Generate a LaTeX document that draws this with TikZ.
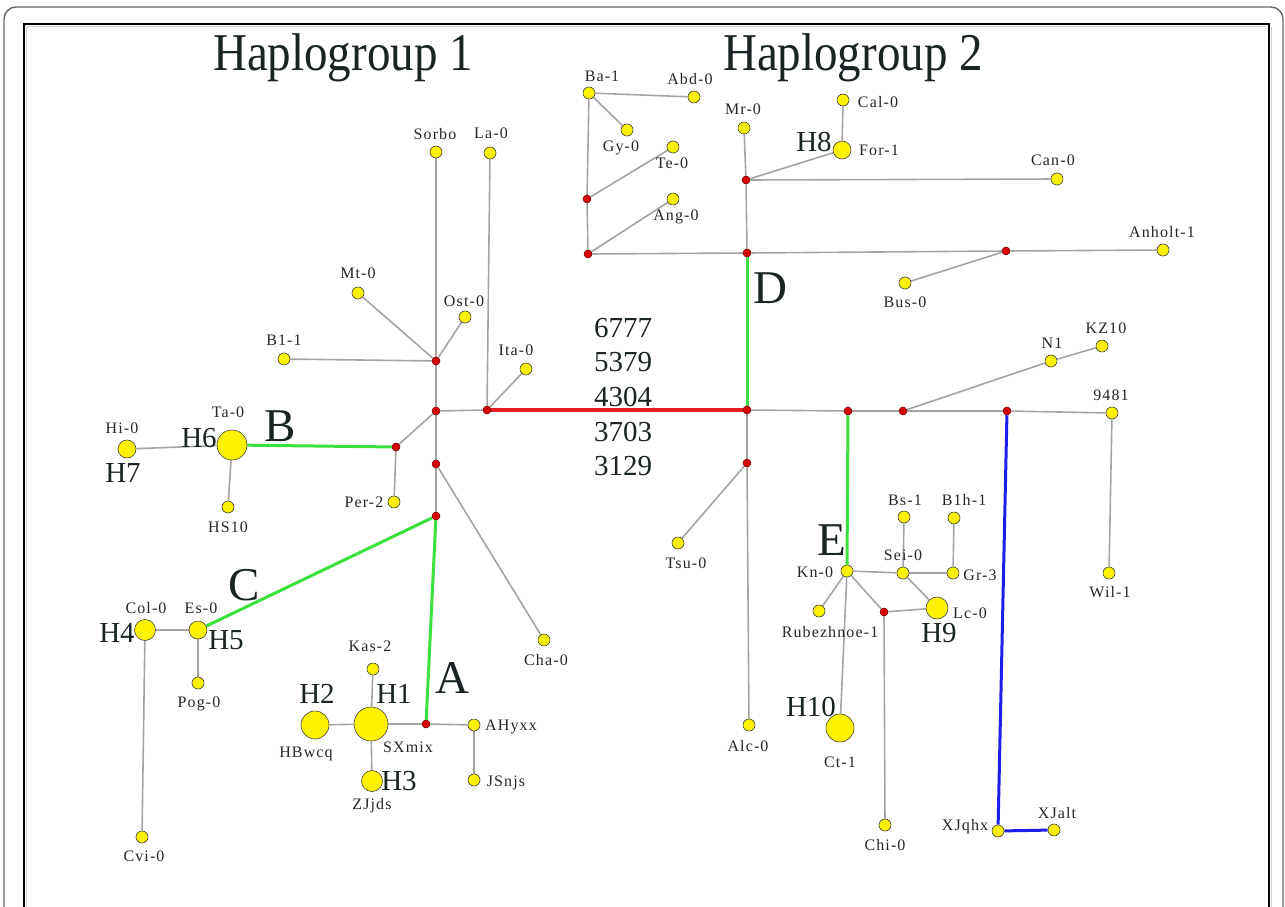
\documentclass[tikz,border=0pt]{standalone}
\usepackage{fontspec}
\setmainfont{Liberation Serif}
\newfontfamily\lblfont[LetterSpace=7]{Liberation Serif}
\usetikzlibrary{backgrounds}
\definecolor{lgray}{HTML}{A4A4A4}
\definecolor{lgreen}{HTML}{3CE03C}
\definecolor{lblue}{HTML}{1E1EE6}
\definecolor{lred}{HTML}{E41E1E}
\definecolor{ink}{HTML}{1A2424}
\tikzset{
  seq/.style={circle, draw=black!75, fill=yellow, line width=0.6pt, inner sep=0pt, minimum size=#1},
  seq/.default=12pt,
  mv/.style={circle, draw=red!40!black, fill=red!85!black, line width=0.5pt, inner sep=0pt, minimum size=8pt},
  link/.style={draw=lgray, line width=1.6pt},
  grn/.style={draw=lgreen, line width=3pt},
  blu/.style={draw=lblue, line width=3pt},
  hot/.style={draw=lred, line width=4.5pt},
  lbl/.style={font=\lblfont\fontsize{16}{18}\selectfont, text=black!85, inner sep=0pt},
  hlab/.style={font=\fontsize{29}{31}\selectfont, text=ink, inner sep=0pt},
  bigl/.style={font=\fontsize{47}{49}\selectfont, text=ink, inner sep=0pt},
  numl/.style={font=\fontsize{29}{31}\selectfont, text=ink, inner sep=0pt},
  ttl/.style={font=\fontsize{47}{50}\selectfont, text=ink, inner sep=0pt}
}
\begin{document}
\begin{tikzpicture}[x=1pt,y=-1pt]
\useasboundingbox (0,0) rectangle (1285,907);
\clip (0,0) rectangle (1285,907);
% frames
\draw[black!60, line width=1.4pt, rounded corners=12pt] (4,7) rectangle (1283,960);
\draw[black!18, line width=1pt] (26.5,960) -- (26.5,26.5) -- (1266,26.5);
\draw[black!18, line width=1pt] (1271,27) -- (1271,960);
\draw[black, line width=2.5pt] (24,960) -- (24,24) -- (1269,24) -- (1269,960);

% titles
\node[ttl] (t1) at (343,58) {\scalebox{1.0}[1.13]{Haplogroup 1}};
\node[ttl] (t2) at (853,58) {\scalebox{1.0}[1.13]{Haplogroup 2}};

% ---------- Haplogroup 1 ----------
\node[mv] (m1) at (436,361) {};
\node[mv] (m2) at (436,411) {};
\node[mv] (m3) at (487,410) {};
\node[mv] (m4) at (436,464) {};
\node[mv] (m5) at (436,516) {};
\node[mv] (mPer) at (396,447) {};
\node[mv] (mA) at (426,724) {};

\node[seq] (Sorbo) at (436,152) {};
\node[seq] (La0) at (490,153) {};
\node[seq] (Mt0) at (358,293) {};
\node[seq] (Ost0) at (465,317) {};
\node[seq] (Bl1) at (284,359) {};
\node[seq] (Ita0) at (526,369) {};
\node[seq] (Per2) at (394,502) {};
\node[seq=30pt] (Ta0) at (232,445) {};
\node[seq=18pt] (Hi0) at (127,449) {};
\node[seq] (HS10) at (228,507) {};
\node[seq] (Cha0) at (544,640) {};
\node[seq=18pt] (Es0) at (198,630) {};
\node[seq=21pt] (Col0) at (145,630) {};
\node[seq] (Pog0) at (198,683) {};
\node[seq] (Cvi0) at (142,837) {};
\node[seq=34pt] (SXmix) at (371,724) {};
\node[seq=28pt] (HBwcq) at (315,725) {};
\node[seq=21pt] (ZJjds) at (372,781) {};
\node[seq] (Kas2) at (373,669) {};
\node[seq] (AHyxx) at (474,725) {};
\node[seq] (JSnjs) at (474,780) {};

\node[lbl] (tSorbo) at (435,134) {Sorbo};
\node[lbl] (tLa0) at (491,133) {La-0};
\node[lbl] (tMt0) at (358,273) {Mt-0};
\node[lbl] (tOst0) at (464,301) {Ost-0};
\node[lbl] (tBl1) at (284,340) {B1-1};
\node[lbl] (tIta0) at (516,350) {Ita-0};
\node[lbl] (tPer2) at (364,502) {Per-2};
\node[lbl] (tTa0) at (228,412) {Ta-0};
\node[lbl] (tHi0) at (122,428) {Hi-0};
\node[lbl] (tHS10) at (228,527) {HS10};
\node[lbl] (tCha0) at (546,660) {Cha-0};
\node[lbl] (tCol0) at (146,608) {Col-0};
\node[lbl] (tEs0) at (201,608) {Es-0};
\node[lbl] (tPog0) at (199,704) {Pog-0};
\node[lbl] (tCvi0) at (144,856) {Cvi-0};
\node[lbl] (tKas2) at (370,646) {Kas-2};
\node[lbl] (tSXmix) at (408,747) {SXmix};
\node[lbl] (tHBwcq) at (306,754) {HBwcq};
\node[lbl] (tZJjds) at (372,806) {ZJjds};
\node[lbl] (tAHyxx) at (511,727) {AHyxx};
\node[lbl] (tJSnjs) at (506,783) {JSnjs};

\node[hlab] (h1) at (394,694) {H1};
\node[hlab] (h2) at (317,694) {H2};
\node[hlab] (h3) at (399,781) {H3};
\node[hlab] (h4) at (117,633) {H4};
\node[hlab] (h5) at (226,640) {H5};
\node[hlab] (h6) at (199,438) {H6};
\node[hlab] (h7) at (123,473) {H7};

\node[bigl] (lA) at (452,678) {A};
\node[bigl] (lB) at (280,426) {B};
\node[bigl] (lC) at (244,585) {C};

% mutations along the central branch
\node[numl] (k1) at (623,328) {6777};
\node[numl] (k2) at (623,362) {5379};
\node[numl] (k3) at (623,397) {4304};
\node[numl] (k4) at (623,432) {3703};
\node[numl] (k5) at (623,466) {3129};

% ---------- Haplogroup 2 ----------
\node[mv] (D0) at (747,410) {};
\node[mv] (D2) at (747,253) {};
\node[mv] (D3) at (746,180) {};
\node[mv] (L1) at (587,199) {};
\node[mv] (L2) at (588,254) {};
\node[mv] (R1) at (1006,251) {};
\node[mv] (Dd) at (747,463) {};
\node[mv] (E0) at (848,411) {};
\node[mv] (N0) at (903,411) {};
\node[mv] (B0) at (1007,411) {};
\node[mv] (K0) at (884,612) {};

\node[seq] (Ba1) at (589,93) {};
\node[seq] (Abd0) at (694,97) {};
\node[seq] (Gy0) at (627,130) {};
\node[seq] (Te0) at (673,147) {};
\node[seq] (Ang0) at (673,199) {};
\node[seq] (Mr0) at (744,128) {};
\node[seq=18pt] (For1) at (842,150) {};
\node[seq] (Cal0) at (843,100) {};
\node[seq] (Can0) at (1057,179) {};
\node[seq] (Anholt1) at (1163,250) {};
\node[seq] (Bus0) at (905,283) {};
\node[seq] (Tsu0) at (678,543) {};
\node[seq] (Alc0) at (749,725) {};
\node[seq] (N1) at (1051,361) {};
\node[seq] (KZ10) at (1102,346) {};
\node[seq] (n9481) at (1112,413) {};
\node[seq] (Wil1) at (1109,573) {};
\node[seq] (XJqhx) at (998,831) {};
\node[seq] (XJalt) at (1054,830) {};
\node[seq] (Kn0) at (847,571) {};
\node[seq] (Sei0) at (903,573) {};
\node[seq] (Gr3) at (953,573) {};
\node[seq] (Blh1) at (954,518) {};
\node[seq] (Bs1) at (904,517) {};
\node[seq=22pt] (Lc0) at (937,608) {};
\node[seq] (Rub) at (819,611) {};
\node[seq] (Chi0) at (885,825) {};
\node[seq=28pt] (Ct1) at (840,728) {};

\node[lbl] (tBa1) at (602,76) {Ba-1};
\node[lbl] (tAbd0) at (690,79) {Abd-0};
\node[lbl] (tGy0) at (621,148) {Gy-0};
\node[lbl] (tTe0) at (672,163) {Te-0};
\node[lbl] (tAng0) at (676,217) {Ang-0};
\node[lbl] (tMr0) at (743,109) {Mr-0};
\node[lbl] (tCal0) at (878,102) {Cal-0};
\node[lbl] (tFor1) at (879,150) {For-1};
\node[lbl] (tCan0) at (1053,160) {Can-0};
\node[lbl] (tAnholt1) at (1162,232) {Anholt-1};
\node[lbl] (tBus0) at (905,302) {Bus-0};
\node[lbl] (tTsu0) at (686,563) {Tsu-0};
\node[lbl] (tAlc0) at (748,746) {Alc-0};
\node[lbl] (tN1) at (1052,343) {N1};
\node[lbl] (tKZ10) at (1106,328) {KZ10};
\node[lbl] (t9481) at (1111,395) {9481};
\node[lbl] (tWil1) at (1110,592) {Wil-1};
\node[lbl] (tXJqhx) at (965,827) {XJqhx};
\node[lbl] (tXJalt) at (1057,813) {XJalt};
\node[lbl] (tKn0) at (815,572) {Kn-0};
\node[lbl] (tSei0) at (903,555) {Sei-0};
\node[lbl] (tGr3) at (980,575) {Gr-3};
\node[lbl] (tBlh1) at (964,500) {B1h-1};
\node[lbl] (tBs1) at (905,500) {Bs-1};
\node[lbl] (tLc0) at (970,613) {Lc-0};
\node[lbl] (tRub) at (830,632) {Rubezhnoe-1};
\node[lbl] (tChi0) at (885,845) {Chi-0};
\node[lbl] (tCt1) at (840,762) {Ct-1};

\node[hlab] (h8) at (814,142) {H8};
\node[hlab] (h9) at (939,633) {H9};
\node[hlab] (h10) at (811,707) {H10};

\node[bigl] (lD) at (770,288) {D};
\node[bigl] (lE) at (832,540) {E};

% ---------- connections ----------
\begin{scope}[on background layer]
  % haplogroup 1
  \draw[link] (Sorbo) -- (m1);
  \draw[link] (La0) -- (m3);
  \draw[link] (Mt0) -- (m1);
  \draw[link] (Ost0) -- (m1);
  \draw[link] (Bl1) -- (m1);
  \draw[link] (m1) -- (m2);
  \draw[link] (m2) -- (m3);
  \draw[link] (m3) -- (Ita0);
  \draw[link] (m2) -- (mPer);
  \draw[link] (mPer) -- (Per2);
  \draw[link] (m2) -- (m4);
  \draw[link] (m4) -- (m5);
  \draw[link] (m4) -- (Cha0);
  \draw[link] (Hi0) -- (Ta0);
  \draw[link] (Ta0) -- (HS10);
  \draw[link] (Col0) -- (Es0);
  \draw[link] (Col0) -- (Cvi0);
  \draw[link] (Es0) -- (Pog0);
  \draw[link] (HBwcq) -- (SXmix);
  \draw[link] (SXmix) -- (Kas2);
  \draw[link] (SXmix) -- (ZJjds);
  \draw[link] (SXmix) -- (mA);
  \draw[link] (mA) -- (AHyxx);
  \draw[link] (AHyxx) -- (JSnjs);
  \draw[grn] (mPer) -- (Ta0);
  \draw[grn] (m5) -- (Es0);
  \draw[grn] (m5) -- (mA);
  % central branch
  \draw[hot] (m3) -- (D0);
  % haplogroup 2
  \draw[link] (Ba1) -- (Abd0);
  \draw[link] (Ba1) -- (Gy0);
  \draw[link] (Ba1) -- (L1);
  \draw[link] (L1) -- (Te0);
  \draw[link] (L1) -- (L2);
  \draw[link] (L2) -- (Ang0);
  \draw[link] (L2) -- (D2);
  \draw[link] (D2) -- (R1);
  \draw[link] (R1) -- (Anholt1);
  \draw[link] (R1) -- (Bus0);
  \draw[link] (Mr0) -- (D3);
  \draw[link] (D3) -- (D2);
  \draw[link] (D3) -- (For1);
  \draw[link] (For1) -- (Cal0);
  \draw[link] (D3) -- (Can0);
  \draw[grn] (D2) -- (D0);
  \draw[link] (D0) -- (E0);
  \draw[link] (E0) -- (N0);
  \draw[link] (N0) -- (B0);
  \draw[link] (B0) -- (n9481);
  \draw[link] (N0) -- (N1);
  \draw[link] (N1) -- (KZ10);
  \draw[link] (n9481) -- (Wil1);
  \draw[link] (D0) -- (Dd);
  \draw[link] (Dd) -- (Alc0);
  \draw[link] (Dd) -- (Tsu0);
  \draw[grn] (E0) -- (Kn0);
  \draw[link] (Kn0) -- (Sei0);
  \draw[link] (Sei0) -- (Gr3);
  \draw[link] (Gr3) -- (Blh1);
  \draw[link] (Sei0) -- (Bs1);
  \draw[link] (Sei0) -- (Lc0);
  \draw[link] (Kn0) -- (Rub);
  \draw[link] (Kn0) -- (K0);
  \draw[link] (K0) -- (Lc0);
  \draw[link] (K0) -- (Chi0);
  \draw[link] (Kn0) -- (Ct1);
  \draw[blu] (B0) -- (XJqhx);
  \draw[blu] (XJqhx) -- (XJalt);
\end{scope}
\end{tikzpicture}
\end{document}
